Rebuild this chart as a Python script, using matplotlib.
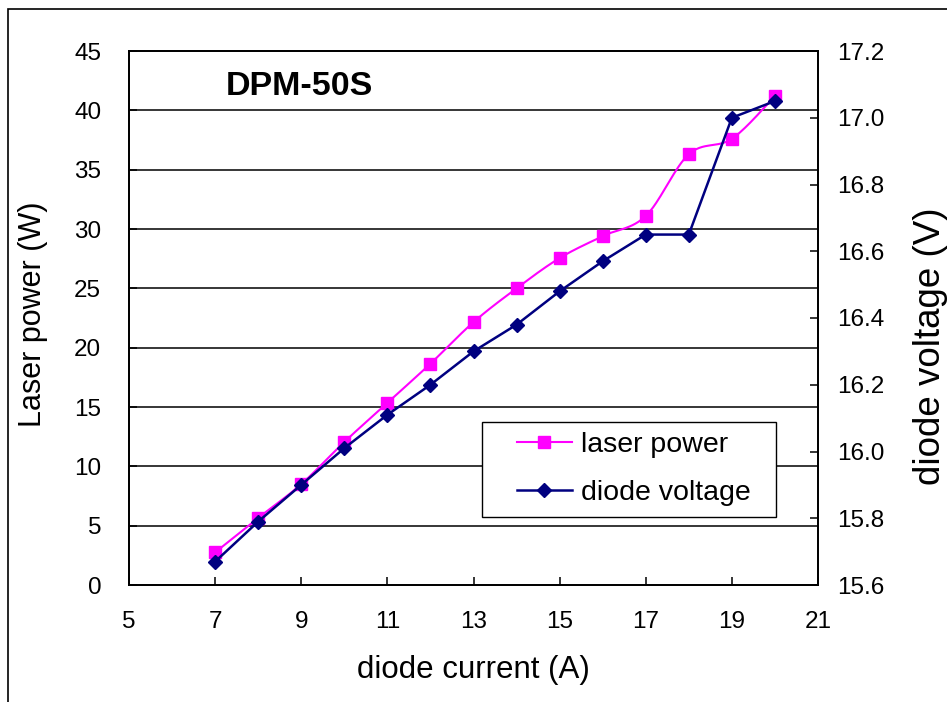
import numpy as np
import matplotlib
matplotlib.use("Agg")
import matplotlib.pyplot as plt
from matplotlib.patches import Rectangle

plt.rcParams['font.family'] = ['Liberation Sans', 'DejaVu Sans']

# ── data ──────────────────────────────────────────────────────────────────────
current       = [7, 8, 9, 10, 11, 12, 13, 14, 15, 16, 17, 18, 19, 20]
laser_power   = [2.75, 5.65, 8.5, 12.05, 15.35, 18.65, 22.15, 25.0, 27.55,
                 29.4, 31.1, 36.3, 37.6, 41.2]
diode_voltage = [15.67, 15.79, 15.90, 16.01, 16.11, 16.20, 16.30, 16.38,
                 16.48, 16.57, 16.65, 16.65, 17.00, 17.05]

x_ticks  = [5, 7, 9, 11, 13, 15, 17, 19, 21]
y1_ticks = [0, 5, 10, 15, 20, 25, 30, 35, 40, 45]
y2_ticks = [15.6, 15.8, 16.0, 16.2, 16.4, 16.6, 16.8, 17.0, 17.2]

MAGENTA = "#FF00FF"
NAVY    = "#000080"


def smooth(xs, ys, n=30):
    # Excel-style smoothed line (Catmull-Rom through the points)
    p = np.column_stack([xs, ys]).astype(float)
    p = np.vstack([p[0], p, p[-1]])
    out = []
    t = np.linspace(0, 1, n)[:, None]
    for i in range(1, len(p) - 2):
        p0, p1, p2, p3 = p[i - 1], p[i], p[i + 1], p[i + 2]
        c1 = p1 + (p2 - p0) / 6
        c2 = p2 - (p3 - p1) / 6
        seg = ((1 - t) ** 3) * p1 + 3 * ((1 - t) ** 2) * t * c1 \
            + 3 * (1 - t) * t ** 2 * c2 + t ** 3 * p2
        out.append(seg if i == 1 else seg[1:])
    out = np.vstack(out)
    return out[:, 0], out[:, 1]


fig = plt.figure(figsize=(9.47, 7.02), dpi=100)
ax = fig.add_axes([129 / 947, 1 - 585 / 702, 689 / 947, 534 / 702])
ax2 = ax.twinx()

# outer chart border (clipped on right/bottom like the source)
fig.add_artist(Rectangle((7.5 / 947, -0.2), 1.2, 1.2 - 9 / 702,
                         transform=fig.transFigure, fill=False,
                         edgecolor="black", linewidth=1.2))

# ── left axis: laser power ────────────────────────────────────────────────────
sx, sy = smooth(current, laser_power)
ax.plot(sx, sy, color=MAGENTA, linewidth=1.5, zorder=3)
ax.plot(current, laser_power, linestyle="none", marker="s", markersize=8.5,
        color=MAGENTA, zorder=3)

ax.set_xlim(5, 21)
ax.set_ylim(0, 45)
ax.set_xticks(x_ticks)
ax.set_yticks(y1_ticks)
for y in y1_ticks[1:-1]:
    ax.axhline(y, color="black", linewidth=1.1, zorder=1)

ax.tick_params(axis="x", direction="in", length=6, width=1.1, pad=18.5,
               labelsize=17.5)
ax.tick_params(axis="y", direction="in", length=6, width=1.1, pad=20,
               labelsize=17.5)

ax.set_xlabel("diode current (A)", fontsize=22.5)
ax.xaxis.set_label_coords(0.5, -0.159)
ax.xaxis.label.set_verticalalignment("center")
ax.set_ylabel("Laser power (W)", fontsize=22)
ax.yaxis.set_label_coords(-0.139, 0.507)
ax.yaxis.label.set_verticalalignment("center")

ax.text(0.248, 0.934, "DPM-50S", transform=ax.transAxes, fontsize=24.5,
        fontweight="bold", ha="center", va="center")

# ── right axis: diode voltage ─────────────────────────────────────────────────
ax2.plot(current, diode_voltage, color=NAVY, linewidth=1.8, marker="D",
         markersize=7.5, zorder=3)
ax2.set_ylim(15.6, 17.2)
ax2.set_yticks(y2_ticks)
ax2.set_yticklabels([f"{v:.1f}" for v in y2_ticks])
ax2.tick_params(axis="y", direction="in", length=6, width=1.1, pad=14,
                labelsize=17.5)
ax2.set_ylabel("diode voltage (V)", fontsize=26.5)
ax2.yaxis.set_label_coords(1.164, 0.448)
ax2.yaxis.label.set_verticalalignment("center")

for a in (ax, ax2):
    for s in a.spines.values():
        s.set_linewidth(1.3)

# ── legend ────────────────────────────────────────────────────────────────────
ax2.add_patch(Rectangle((0.512, 0.127), 0.427, 0.179, transform=ax2.transAxes,
                        facecolor="white", edgecolor="black", linewidth=1.0,
                        zorder=4))
h1 = plt.Line2D([], [], color=MAGENTA, linewidth=1.5, marker="s",
                markersize=8.5)
h2 = plt.Line2D([], [], color=NAVY, linewidth=1.8, marker="D", markersize=7.5)
leg = ax2.legend([h1, h2], ["laser power", "diode voltage"],
                 loc="center left", bbox_to_anchor=(0.5627, 0.2169),
                 frameon=False, fontsize=20.5, borderpad=0, borderaxespad=0,
                 handlelength=1.95, handletextpad=0.3, labelspacing=0.78,
                 numpoints=1)
leg.set_zorder(5)

fig.savefig("out.png", dpi=100, facecolor="white")
